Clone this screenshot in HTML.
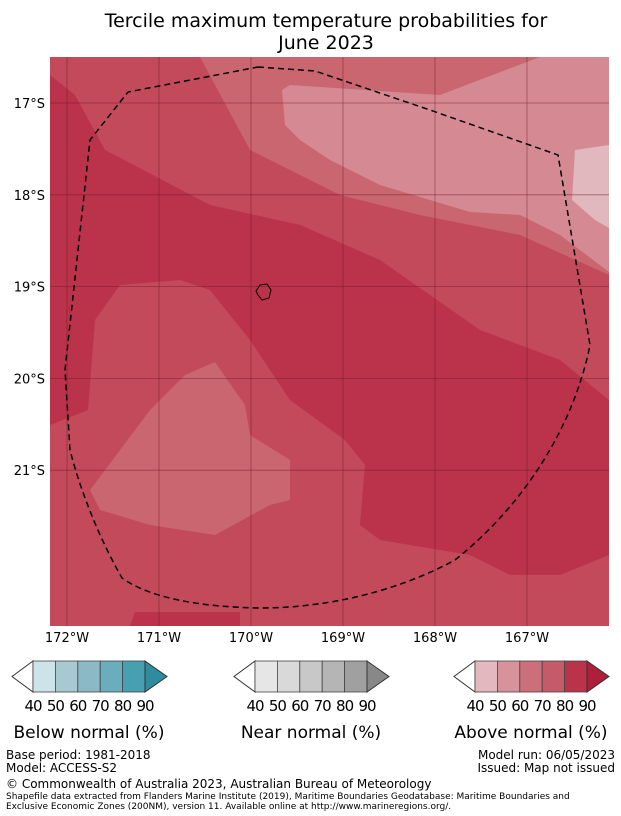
<!DOCTYPE html>
<html><head><meta charset="utf-8"><style>
body{margin:0;background:#fff;width:621px;height:816px;overflow:hidden;font-family:"Liberation Sans","DejaVu Sans",sans-serif;}
svg{position:absolute;left:0;top:0}
</style></head><body>
<svg width="621" height="816" font-family="DejaVu Sans, Liberation Sans, sans-serif">
<text x="326" y="27" font-size="19" text-anchor="middle">Tercile maximum temperature probabilities for</text>
<text x="326" y="49" font-size="19" text-anchor="middle">June 2023</text>
<defs><clipPath id="mc"><rect x="50" y="57" width="559" height="569"/></clipPath></defs>
<g clip-path="url(#mc)">
<rect x="50" y="57" width="559" height="569" fill="#c24a5a"/>
<polygon fill="#bb324b" points="50,75 75,95 105,150 210,205 300,225 380,260 480,330 560,360 609,400 609,626 50,626"/>
<polygon fill="#c24a5a" points="88,410 95,320 120,285 180,280 210,290 250,340 290,400 345,440 365,465 360,525 380,540 470,555 510,575 560,575 609,555 609,626 240,626 240,612 135,612 130,626 50,626 50,425"/>
<polygon fill="#c9666f" points="200,57 609,57 609,275 520,235 420,215 340,195 290,170 250,150"/>
<polygon fill="#d58a93" points="282,90 290,85 440,95 540,57 609,57 609,272 560,235 520,215 470,212 430,200 380,185 330,160 300,140 285,125"/>
<polygon fill="#e0b8bd" points="575,150 609,145 609,228 595,220 572,200"/>
<polygon fill="#c9666f" points="90,490 150,410 185,375 215,362 245,405 250,435 290,460 290,500 270,505 215,535 150,525 100,510"/>
<g id="grid" stroke="#6b1a28" stroke-opacity="0.55" stroke-width="0.8"></g>
<path fill="none" stroke="#000" stroke-width="1.5" stroke-dasharray="6,4" d="M258,67 L315,71 L430,110 L558,155 L590,345 C575,420 530,500 455,560 C400,590 330,608 260,608 C200,607 150,598 122,578 C100,540 80,490 70,450 L65,370 L90,140 L128,92 Z"/>
<path fill="none" stroke="#000" stroke-width="1" d="M260,285 L267,284 L271,290 L269,298 L262,300 L258,295 L256,291 Z"/>
</g>
<g id="axes" font-size="13"></g>
<g id="cbars"></g>
<g font-size="12">
<text x="6" y="759">Base period: 1981-2018</text>
<text x="6" y="772">Model: ACCESS-S2</text>
<text x="615" y="759" text-anchor="end">Model run: 06/05/2023</text>
<text x="615" y="772" text-anchor="end">Issued: Map not issued</text>
<text x="6" y="788">© Commonwealth of Australia 2023, Australian Bureau of Meteorology</text>
<text x="6" y="799" font-size="9">Shapefile data extracted from Flanders Marine Institute (2019), Maritime Boundaries Geodatabase: Maritime Boundaries and</text>
<text x="6" y="809" font-size="9">Exclusive Economic Zones (200NM), version 11. Available online at http://www.marineregions.org/.</text>
</g>
</svg>
<script>
const lonTicks=[-172,-171,-170,-169,-168,-167];
const latTicks=[-17,-18,-19,-20,-21];
const levels=[40,50,60,70,80,90];
const cbTitles=["Below normal (%)","Near normal (%)","Above normal (%)"];
const cbColors=[["#cce3ea","#a9c9d1","#8cb9c6","#6aadbd","#46a0b2","#2e8c9e"],["#e6e6e6","#d9d9d9","#c8c8c8","#b5b5b5","#a0a0a0","#888888"],["#e3b9bf","#d7939b","#cb6f7b","#c45b69","#b9334a","#ae1f3c"]];
const NS="http://www.w3.org/2000/svg";
const xs=lon=>67+(lon+172)*92;
const ys=lat=>103+(-17-lat)*91.8;
const grid=document.getElementById('grid'),axes=document.getElementById('axes');
function mk(tag,at,parent){const e=document.createElementNS(NS,tag);for(const k in at)e.setAttribute(k,at[k]);parent.appendChild(e);return e;}
lonTicks.forEach(l=>{
 const ln=mk('line',{x1:xs(l),x2:xs(l),y1:57,y2:626},grid);
 
 
 const t=mk('text',{x:xs(l),y:642,'text-anchor':'middle'},axes);t.textContent=Math.abs(l)+'°W';
 
 
});
latTicks.forEach(l=>{
 const ln=mk('line',{x1:50,x2:609,y1:ys(l),y2:ys(l)},grid);
 
 
 const t=mk('text',{x:45,y:ys(l)+5,'text-anchor':'end'},axes);t.textContent=Math.abs(l)+'°S';
 
 
});
const cb=document.getElementById('cbars');
const starts=[33,255,475],bw=22.4,cbTop=661,cbH=31;
cbTitles.forEach((tt,i)=>{
 const x0=starts[i];
 const g=mk('g',{},cb);
 
 
 mk('polygon',{points:`${x0},${cbTop} ${x0-21},${cbTop+cbH/2} ${x0},${cbTop+cbH}`,fill:'#fff',stroke:'#333','stroke-width':1},g);
 for(let k=0;k<levels.length-1;k++){
  mk('rect',{x:x0+k*bw,y:cbTop,width:bw,height:cbH,fill:cbColors[i][k],stroke:'#444','stroke-width':0.8},g);
 }
 const xe=x0+bw*(levels.length-1);
 mk('polygon',{points:`${xe},${cbTop} ${xe+22},${cbTop+cbH/2} ${xe},${cbTop+cbH}`,fill:cbColors[i][5],stroke:'#333','stroke-width':1},g);
 levels.forEach((v,k)=>{const t=mk('text',{x:x0+k*bw,y:711,'text-anchor':'middle','font-size':15,'letter-spacing':'-1'},g);t.textContent=v;});
 const t=mk('text',{x:x0+56,y:738,'text-anchor':'middle','font-size':17},g);t.textContent=tt;
});
</script>
</body></html>
